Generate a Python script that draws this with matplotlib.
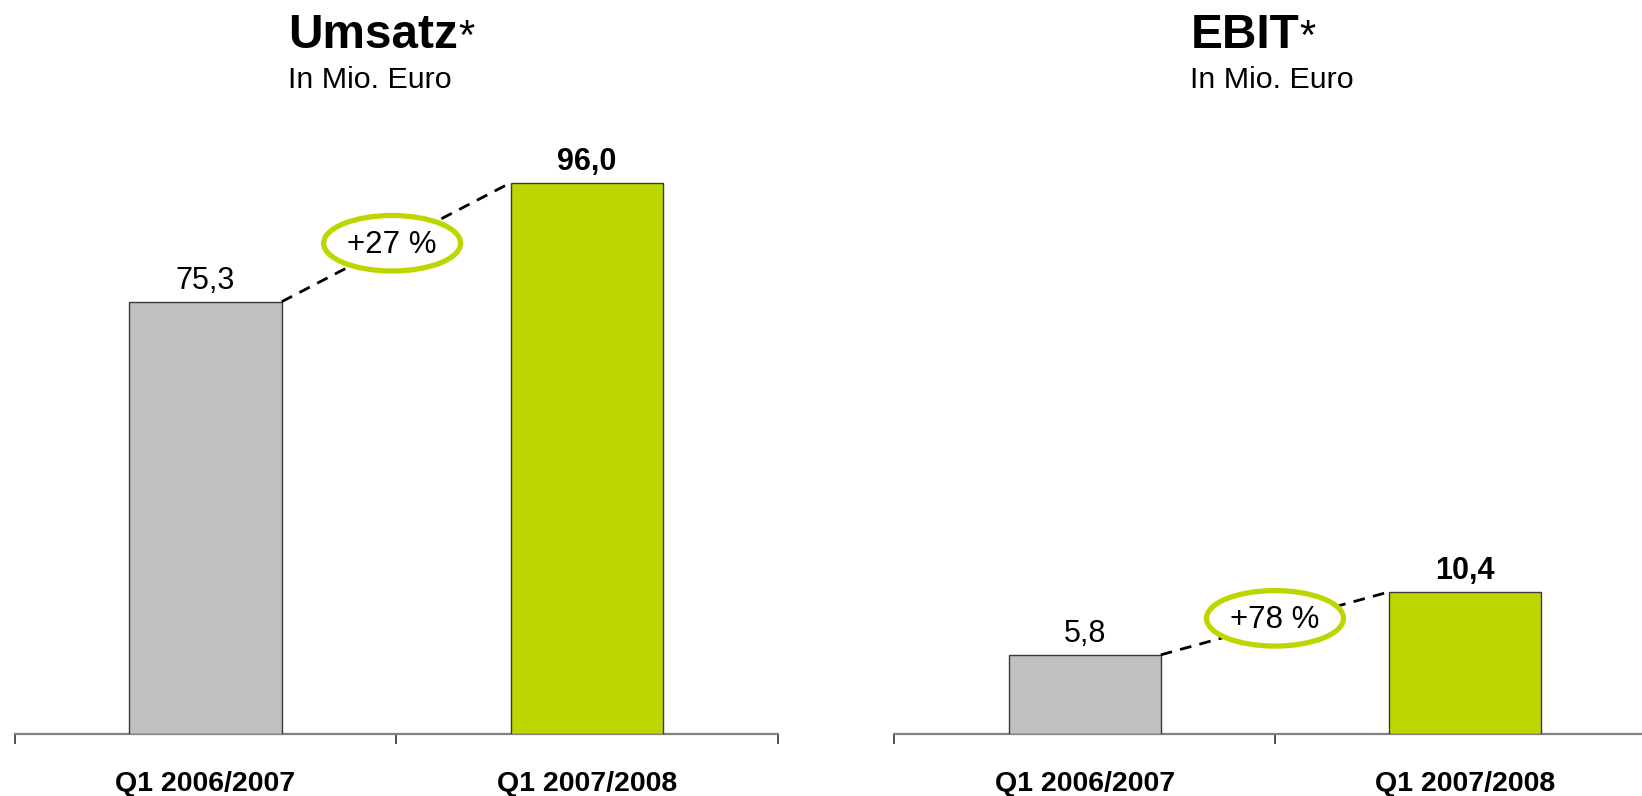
import matplotlib
matplotlib.use("Agg")
import matplotlib.pyplot as plt
from matplotlib.patches import Ellipse
from matplotlib.transforms import ScaledTranslation

plt.rcParams['font.family'] = ['Liberation Sans', 'DejaVu Sans']

# ---- data ----
categories = ["Q1 2006/2007", "Q1 2007/2008"]
umsatz = [75.3, 96.0]
ebit = [5.8, 10.4]
umsatz_labels = ["75,3", "96,0"]
ebit_labels = ["5,8", "10,4"]
umsatz_change = "+27 %"
ebit_change = "+78 %"
titles = ["Umsatz", "EBIT"]
subtitle = "In Mio. Euro"

GRAY = "#c0c0c0"
GREEN = "#bed600"
BAR_COLORS = [GRAY, GREEN]

W, H = 1642, 796
fig = plt.figure(figsize=(W / 100, H / 100), dpi=100)

def px_axes(x0, x1, ytop, ybot):
    return [x0 / W, (H - ybot) / H, (x1 - x0) / W, (ybot - ytop) / H]

ax1 = fig.add_axes(px_axes(14.6, 777.7, 100, 734.3))
ax2 = fig.add_axes(px_axes(894.3, 1655.7, 100, 734.3))

def draw_panel(ax, values, labels, change, ymax, ell_off):
    x = range(len(values))
    ax.bar(x, values, width=0.4, color=BAR_COLORS, edgecolor="#3a3a3a",
           linewidth=1.0, zorder=3)
    ax.set_xlim(-0.5, 1.5)
    ax.set_ylim(0, ymax)
    for s in ["left", "right", "top"]:
        ax.spines[s].set_visible(False)
    ax.spines["bottom"].set_color("#808080")
    ax.spines["bottom"].set_linewidth(1.6)
    ax.spines["bottom"].set_zorder(2)
    ax.set_yticks([])
    ax.set_xticks([-0.5, 0.5, 1.5])
    ax.set_xticklabels([])
    ax.tick_params(axis="x", which="major", direction="out", length=7,
                   width=1.4, color="#505050")
    ax.set_xticks([0, 1], minor=True)
    ax.set_xticklabels(categories, minor=True, fontsize=20.5,
                       fontweight="bold")
    ax.tick_params(axis="x", which="minor", length=0, pad=26.5)
    # value labels
    ax.annotate(labels[0], xy=(0, values[0]), xytext=(0, 9.5),
                textcoords="offset points", ha="center", va="baseline",
                fontsize=22, zorder=5)
    ax.annotate(labels[1], xy=(1, values[1]), xytext=(0, 9.5),
                textcoords="offset points", ha="center", va="baseline",
                fontsize=22, fontweight="bold", zorder=5)
    # dashed connector
    x0, x1 = 0 + 0.2, 1 - 0.2
    ax.plot([x0, x1], [values[0], values[1]], color="black", lw=2.0,
            dashes=(4.2, 3), zorder=4, clip_on=False)
    # ellipse with change
    mid_y = (values[0] + values[1]) / 2
    trans = (fig.dpi_scale_trans
             + ScaledTranslation(ell_off[0] / 100, ell_off[1] / 100,
                                 fig.dpi_scale_trans)
             + ScaledTranslation(0.5, mid_y, ax.transData))
    ell = Ellipse((0, 0), 1.37, 0.555, transform=trans, facecolor="white",
                  edgecolor=GREEN, linewidth=3.8, zorder=6, clip_on=False)
    ax.add_patch(ell)
    ax.annotate(change, xy=(0.5, mid_y), xytext=(ell_off[0] * 0.72,
                ell_off[1] * 0.72 - 1), textcoords="offset points",
                ha="center", va="center", fontsize=22.5, zorder=7)

draw_panel(ax1, umsatz, umsatz_labels, umsatz_change, 634.3 / 5.745, (-4, -1))
draw_panel(ax2, ebit, ebit_labels, ebit_change, 634.3 / 13.7, (0, 5))

# titles
for t, xpx in zip(titles, [288, 1190.3]):
    tt = fig.text(xpx / W, (H - 48) / H, t, fontsize=34.4, fontweight="bold",
                  ha="left", va="baseline")
    fig.text(xpx / W, (H - 88.3) / H, subtitle, fontsize=21.9,
             ha="left", va="baseline")
    fig.add_artist(plt.Annotation("*", xy=(1, 0), xycoords=tt, xytext=(0, 0),
                                  textcoords="offset points", ha="left",
                                  va="bottom", fontsize=30,
                                  annotation_clip=False))

fig.savefig("out.png", dpi=100)
